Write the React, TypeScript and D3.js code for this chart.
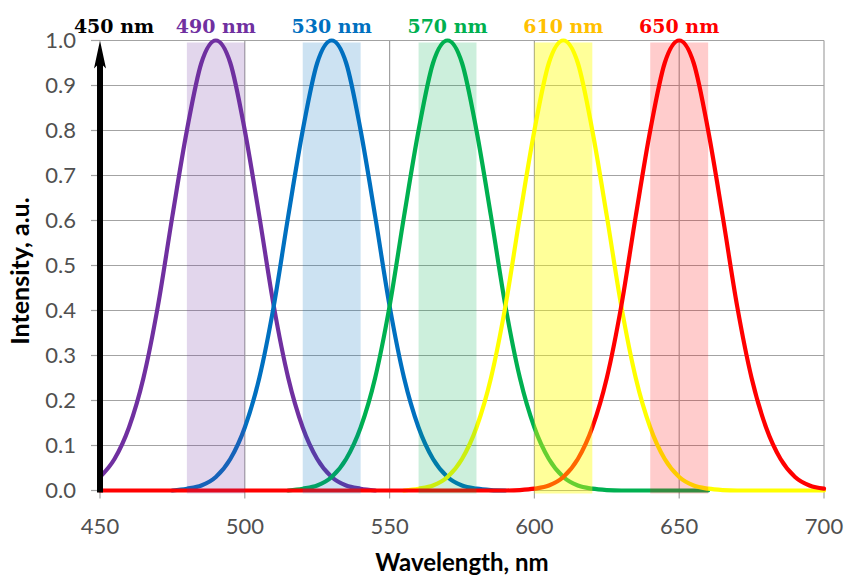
import React from "react";
import * as d3 from "d3";

// wavelengths (nm) and intensities, 5 nm steps
const purpleX = [450, 455, 460, 465, 470, 475, 480, 485, 490, 495, 500, 505, 510, 515, 520, 525, 530, 535, 540, 545];
const purpleY = [0.03, 0.07, 0.14, 0.25, 0.41, 0.61, 0.8, 0.95, 1.0, 0.95, 0.8, 0.61, 0.41, 0.25, 0.14, 0.07, 0.03, 0.011, 0.004, 0.0];

const blueX = [475, 480, 485, 490, 495, 500, 505, 510, 515, 520, 525, 530, 535, 540, 545, 550, 555, 560, 565, 570, 575, 580, 585, 590];
const blueY = [0.0, 0.004, 0.011, 0.03, 0.07, 0.14, 0.25, 0.41, 0.61, 0.8, 0.95, 1.0, 0.95, 0.8, 0.61, 0.41, 0.25, 0.14, 0.07, 0.03, 0.011, 0.004, 0.001, 0.0];

const greenX = [515, 520, 525, 530, 535, 540, 545, 550, 555, 560, 565, 570, 575, 580, 585, 590, 595, 600, 605, 610, 615, 620, 625, 630, 640, 650, 660];
const greenY = [0.0, 0.004, 0.011, 0.03, 0.07, 0.14, 0.25, 0.41, 0.61, 0.8, 0.95, 1.0, 0.95, 0.8, 0.61, 0.41, 0.25, 0.14, 0.07, 0.03, 0.011, 0.004, 0.001, 0.0, 0.0, 0.0, 0.0];

const yellowX = [555, 560, 565, 570, 575, 580, 585, 590, 595, 600, 605, 610, 615, 620, 625, 630, 635, 640, 645, 650, 655, 660, 665, 670, 680, 690, 700];
const yellowY = [0.0, 0.004, 0.011, 0.03, 0.07, 0.14, 0.25, 0.41, 0.61, 0.8, 0.95, 1.0, 0.95, 0.8, 0.61, 0.41, 0.25, 0.14, 0.07, 0.03, 0.011, 0.004, 0.001, 0.0, 0.0, 0.0, 0.0];

const redX = [450, 500, 550, 580, 590, 595, 600, 605, 610, 615, 620, 625, 630, 635, 640, 645, 650, 655, 660, 665, 670, 675, 680, 685, 690, 695, 700];
const redY = [0.0, 0.0, 0.0, 0.0, 0.0, 0.001, 0.004, 0.011, 0.03, 0.07, 0.14, 0.25, 0.41, 0.61, 0.8, 0.95, 1.0, 0.95, 0.8, 0.61, 0.41, 0.25, 0.14, 0.07, 0.03, 0.011, 0.004];

const peaks = [490, 530, 570, 610, 650];
const peakNames = ["490 nm", "530 nm", "570 nm", "610 nm", "650 nm"];
const bandFrom = [480, 520, 560, 600, 640];
const bandTo = [500, 540, 580, 620, 660];

const xTicks = [450, 500, 550, 600, 650, 700];
const yTicks = [0, 0.1, 0.2, 0.3, 0.4, 0.5, 0.6, 0.7, 0.8, 0.9, 1.0];

const lineColors = ["#7030a0", "#0070c0", "#00b050", "#ffff00", "#ff0000"];
const labelColors = ["#7030a0", "#0070c0", "#00b050", "#ffc000", "#ff0000"];
const bandOpacity = [0.2, 0.2, 0.2, 0.4, 0.2];

export default function App() {
    const width = 846, height = 578;

    const x = d3.scaleLinear().domain([450, 700]).range([100, 824]);
    const y = d3.scaleLinear().domain([0, 1]).range([490.5, 40.5]);

    const series = [
        [purpleX, purpleY],
        [blueX, blueY],
        [greenX, greenY],
        [yellowX, yellowY],
        [redX, redY],
    ].map(([xs, ys]) => xs.map((v, i) => [v, ys[i]] as [number, number]));

    const line = d3.line<[number, number]>()
        .x(d => x(d[0]))
        .y(d => y(d[1]))
        .curve(d3.curveMonotoneX);

    const grid = "#a3a3a3";
    const tickFont = "Lato, 'Open Sans', sans-serif";

    return (
        <svg width={width} height={height} style={{position: "absolute", left: 0, top: 0, background: "#fff"}}>
            {/* horizontal gridlines + left ticks */}
            {yTicks.map(t => (
                <g key={"y" + t}>
                    {t > 0 && <line x1={x(450)} x2={x(700)} y1={y(t)} y2={y(t)} stroke={grid} strokeWidth={1.2}/>}
                    <line x1={x(450) - 9} x2={x(450)} y1={y(t)} y2={y(t)} stroke={grid} strokeWidth={1.2}/>
                    <text x={76} y={y(t)} dy="0.36em" textAnchor="end" fontSize={22}
                          fontFamily={tickFont} fill="#505050">{d3.format(".1f")(t)}</text>
                </g>
            ))}
            {/* vertical gridlines + bottom ticks */}
            {xTicks.map(t => (
                <g key={"x" + t}>
                    {t > 450 && <line x1={x(t)} x2={x(t)} y1={y(1)} y2={y(0)} stroke={grid} strokeWidth={1.2}/>}
                    <line x1={x(t)} x2={x(t)} y1={y(0)} y2={y(0) + 8} stroke={grid} strokeWidth={1.2}/>
                    <text x={x(t)} y={534} textAnchor="middle" fontSize={22}
                          fontFamily={tickFont} fill="#505050">{t}</text>
                </g>
            ))}
            <line x1={x(450)} x2={x(700)} y1={y(0)} y2={y(0)} stroke={grid} strokeWidth={1.2}/>

            {/* spectra */}
            {series.map((s, i) => (
                <path key={"s" + i} d={line(s) || ""} fill="none" stroke={lineColors[i]}
                      strokeWidth={4.2} strokeLinejoin="round" strokeLinecap="round"/>
            ))}

            {/* translucent bands over the lines */}
            {peaks.map((p, i) => (
                <rect key={"b" + p} x={x(bandFrom[i])} width={x(bandTo[i]) - x(bandFrom[i])}
                      y={y(1) + 2} height={y(0) - y(1) + 1}
                      fill={lineColors[i]} fillOpacity={bandOpacity[i]}/>
            ))}

            {/* 450 nm arrow */}
            <line x1={x(450)} x2={x(450)} y1={y(0) + 2} y2={y(1) + 20} stroke="#000" strokeWidth={6}/>
            <path d={`M${x(450)},${y(1)} L${x(450) + 6},${y(1) + 28} L${x(450)},${y(1) + 22} L${x(450) - 6},${y(1) + 28} Z`} fill="#000"/>

            {/* peak labels */}
            <text x={x(450) + 14} y={33} textAnchor="middle" fontSize={19} fontWeight="bold"
                  fontFamily="'DejaVu Serif', serif" fill="#000">450 nm</text>
            {peaks.map((p, i) => (
                <text key={"l" + p} x={x(p)} y={33} textAnchor="middle" fontSize={19} fontWeight="bold"
                      fontFamily="'DejaVu Serif', serif" fill={labelColors[i]}>{peakNames[i]}</text>
            ))}

            {/* axis titles */}
            <text x={(x(450) + x(700)) / 2} y={571} textAnchor="middle" fontSize={24} fontWeight="bold"
                  fontFamily={tickFont} fill="#000">Wavelength, nm</text>
            <text transform={`translate(29,271) rotate(-90)`} textAnchor="middle" fontSize={25}
                  fontWeight="bold" fontFamily={tickFont} fill="#000">Intensity, a.u.</text>
        </svg>
    );
}
